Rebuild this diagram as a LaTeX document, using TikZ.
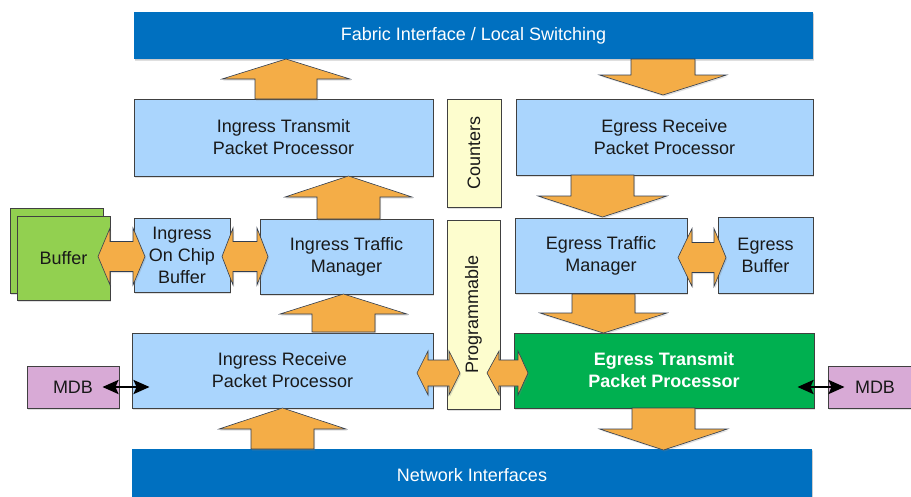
\documentclass[tikz,border=0pt]{standalone}
\usepackage{fontspec}
\setmainfont{Liberation Sans}
\usetikzlibrary{shadows,arrows.meta}
\definecolor{lblue}{RGB}{170,213,253}
\definecolor{dblue}{RGB}{0,112,192}
\definecolor{egreen}{RGB}{0,176,80}
\definecolor{bgreen}{RGB}{146,208,80}
\definecolor{lyellow}{RGB}{253,253,206}
\definecolor{mdbpink}{RGB}{216,170,214}
\definecolor{orng}{RGB}{244,173,71}
\definecolor{bordr}{RGB}{64,64,64}
\definecolor{arrline}{RGB}{50,62,80}
\definecolor{txt}{RGB}{25,25,25}
\newcommand{\vblk}[6]{%
  \draw[blk] (#1,#2) -- ({#1+#5},#3) -- ({#1+#6},#3) -- ({#1+#6},#4) -- ({#1-#6},#4) -- ({#1-#6},#3) -- ({#1-#5},#3) -- cycle;}
\newcommand{\hdblk}[7]{%
  \draw[blk] (#1,#5) -- (#2,{#5-#6}) -- (#2,{#5-#7}) -- (#3,{#5-#7}) -- (#3,{#5-#6}) -- (#4,#5) -- (#3,{#5+#6}) -- (#3,{#5+#7}) -- (#2,{#5+#7}) -- (#2,{#5+#6}) -- cycle;}
\tikzset{
  box/.style={draw=bordr, line width=0.9pt, fill=lblue, text=txt, align=center,
    inner sep=0pt, font=\fontsize{18}{22}\selectfont,
    drop shadow={shadow xshift=1.2pt, shadow yshift=-1.5pt, opacity=0.25}},
  bar/.style={box, draw=none, fill=dblue, text=white, drop shadow={shadow xshift=1pt, shadow yshift=-1pt, opacity=0.2}},
  ylw/.style={box, fill=lyellow},
  blk/.style={fill=orng, draw=arrline, line width=0.6pt, line join=miter,
    drop shadow={shadow xshift=1.2pt, shadow yshift=-1.5pt, opacity=0.25}},
  mdbarrow/.style={draw=black, line width=2.6pt, {Stealth[length=16pt,width=14pt,inset=3pt]}-{Stealth[length=16pt,width=14pt,inset=3pt]}}
}
\begin{document}
\begin{tikzpicture}[x=1pt,y=-1pt]
\useasboundingbox (0,0) rectangle (911,496);
\fill[white] (0,0) rectangle (911,496);
% bars
\node[bar, minimum width=679, minimum height=47] (fabric) at (473.5,35.5) {Fabric Interface / Local Switching};
\node[bar, minimum width=680, minimum height=52] (net) at (472,475) {Network Interfaces};
% row 2
\node[box, minimum width=299, minimum height=77] (itx) at (283.5,137.5) {Ingress Transmit\\Packet Processor};
\node[ylw, minimum width=54, minimum height=108] (cnt) at (474,153) {\rotatebox{90}{Counters}};
\node[box, minimum width=297, minimum height=76] (erx) at (664.5,137) {Egress Receive\\Packet Processor};
% row 3
\node[box, fill=bgreen, minimum width=93, minimum height=85] (bufback) at (56.5,250.5) {};
\node[box, fill=bgreen, minimum width=93, minimum height=84] (buf) at (63.5,258) {Buffer};
\node[box, minimum width=96, minimum height=74] (iocb) at (182,255) {Ingress\\On Chip\\Buffer};
\node[box, minimum width=173, minimum height=75] (itm) at (346.5,256.5) {Ingress Traffic\\Manager};
\node[ylw, minimum width=53, minimum height=189] (prog) at (473.5,314.5) {\rotatebox{90}{Programmable}};
\node[box, minimum width=172, minimum height=75] (etm) at (601,255.5) {Egress Traffic\\Manager};
\node[box, minimum width=95, minimum height=76] (ebuf) at (765.5,255) {Egress\\Buffer};
% row 4
\node[box, minimum width=301, minimum height=75] (irx) at (282.5,370.5) {Ingress Receive\\Packet Processor};
\node[box, fill=egreen, text=white, font=\fontsize{18}{22}\selectfont\bfseries, minimum width=300, minimum height=75] (etx) at (664,370.5) {Egress Transmit\\Packet Processor};
\node[box, fill=mdbpink, minimum width=92, minimum height=42] (mdbl) at (73,387) {MDB};
\node[box, fill=mdbpink, minimum width=94, minimum height=42] (mdbr) at (875,387) {MDB};
% vertical block arrows: xc, ytip, ybase, yend, head half, shaft half
\vblk{286}{59}{79}{99}{64}{31}
\vblk{348.5}{176}{197}{219}{63.5}{31.5}
\vblk{343.5}{294}{314}{332}{63.5}{31.5}
\vblk{282.5}{408}{429}{449}{63.5}{31.5}
\vblk{663}{95}{75}{59}{63.5}{32}
\vblk{602.5}{217}{196}{175}{64.5}{31.5}
\vblk{603.5}{333}{313}{294}{63.5}{31.5}
\vblk{663.5}{450}{429}{408}{64}{31.5}
% horizontal double block arrows
\hdblk{98}{110}{133}{145}{256.5}{28.5}{15}
\hdblk{222}{233}{257}{268}{256.5}{28.5}{15}
\hdblk{678}{692}{714}{726}{257.5}{29}{15}
\hdblk{417}{428}{449}{460}{373}{22}{13}
\hdblk{487}{499}{518}{528}{373}{22}{13}
% MDB connectors
\draw[mdbarrow] ([xshift=-17pt]mdbl.east) -- ([xshift=18pt]mdbl.east -| irx.west);
\draw[mdbarrow] ([xshift=-17pt]mdbr.west -| etx.east) -- ([xshift=17pt]mdbr.west);
\end{tikzpicture}
\end{document}
